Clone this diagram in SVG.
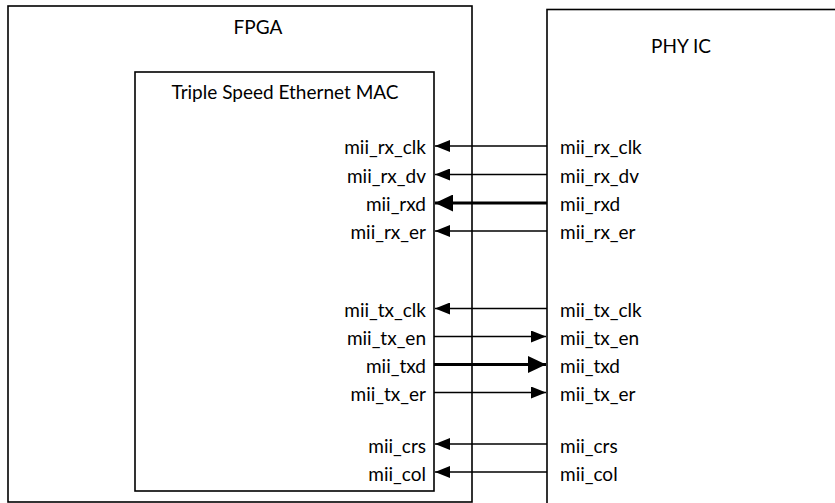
<svg xmlns="http://www.w3.org/2000/svg" width="835" height="503" viewBox="0 0 835 503">
<style>
.box{fill:#fff;stroke:#000;stroke-width:1.6}
.t{font-family:Lato,"Open Sans","Liberation Sans",sans-serif;font-size:19px;fill:#000}
.l{text-anchor:end}
.c{text-anchor:middle}
.w{stroke:#000;stroke-width:1.5;fill:none}
.k{stroke:#000;stroke-width:3;fill:none}
</style>
<defs>
<marker id="a" viewBox="0 0 10 10" refX="10" refY="5" markerWidth="15" markerHeight="12" markerUnits="userSpaceOnUse" orient="auto" preserveAspectRatio="none"><path d="M0,0 L10,5 L0,10 z" fill="#000"/></marker>
<marker id="ak" viewBox="0 0 10 10" refX="10" refY="5" markerWidth="18" markerHeight="17" markerUnits="userSpaceOnUse" orient="auto" preserveAspectRatio="none"><path d="M0,0 L10,5 L0,10 z" fill="#000"/></marker>
</defs>
<g id="fpga">
<rect class="box" x="8" y="6" width="464" height="496"/>
<text class="t c" x="258" y="34">FPGA</text>
</g>
<g id="phy">
<rect class="box" x="547" y="9.5" width="300" height="510"/>
<text class="t c" x="681" y="53">PHY IC</text>
</g>
<g id="mac">
<rect class="box" x="135" y="72" width="299" height="419"/>
<text class="t c" x="285" y="99">Triple Speed Ethernet MAC</text>
<text class="t l" x="426" y="154">mii_rx_clk</text>
<text class="t l" x="426" y="183">mii_rx_dv</text>
<text class="t l" x="426" y="211">mii_rxd</text>
<text class="t l" x="426" y="239">mii_rx_er</text>
<text class="t l" x="426" y="317">mii_tx_clk</text>
<text class="t l" x="426" y="345">mii_tx_en</text>
<text class="t l" x="426" y="373">mii_txd</text>
<text class="t l" x="426" y="401">mii_tx_er</text>
<text class="t l" x="426" y="453">mii_crs</text>
<text class="t l" x="426" y="481">mii_col</text>
</g>
<g id="phy-pins">
<text class="t" x="560" y="154">mii_rx_clk</text>
<text class="t" x="560" y="183">mii_rx_dv</text>
<text class="t" x="560" y="211">mii_rxd</text>
<text class="t" x="560" y="239">mii_rx_er</text>
<text class="t" x="560" y="317">mii_tx_clk</text>
<text class="t" x="560" y="345">mii_tx_en</text>
<text class="t" x="560" y="373">mii_txd</text>
<text class="t" x="560" y="401">mii_tx_er</text>
<text class="t" x="560" y="453">mii_crs</text>
<text class="t" x="560" y="481">mii_col</text>
</g>
<g id="connectors">
<line class="w" x1="547" y1="146" x2="435" y2="146" marker-end="url(#a)"/>
<line class="w" x1="547" y1="174.5" x2="435" y2="174.5" marker-end="url(#a)"/>
<line class="k" x1="547" y1="203" x2="435" y2="203" marker-end="url(#ak)"/>
<line class="w" x1="547" y1="231" x2="435" y2="231" marker-end="url(#a)"/>
<line class="w" x1="547" y1="308.5" x2="435" y2="308.5" marker-end="url(#a)"/>
<line class="w" x1="434" y1="336.5" x2="546" y2="336.5" marker-end="url(#a)"/>
<line class="k" x1="434" y1="364.5" x2="546" y2="364.5" marker-end="url(#ak)"/>
<line class="w" x1="434" y1="392.5" x2="546" y2="392.5" marker-end="url(#a)"/>
<line class="w" x1="547" y1="444" x2="435" y2="444" marker-end="url(#a)"/>
<line class="w" x1="547" y1="472" x2="435" y2="472" marker-end="url(#a)"/>
</g>
</svg>
